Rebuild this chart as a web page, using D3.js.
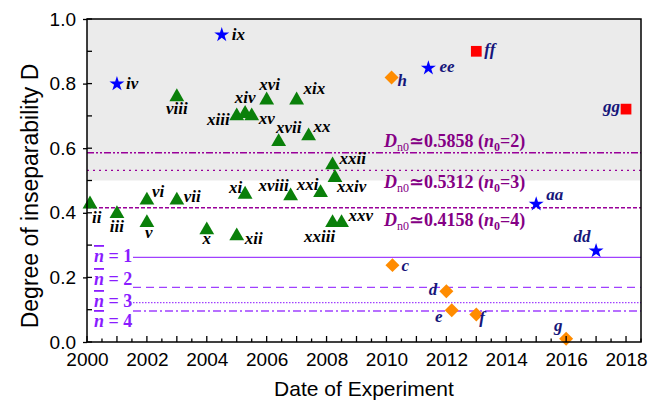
<!DOCTYPE html>
<html>
<head>
<meta charset="utf-8">
<script src="https://cdn.jsdelivr.net/npm/d3@7"></script>
<style>
  body { margin: 0; background: #fff; }
  svg { display: block; }
  .serif { font-family: "Liberation Serif", "DejaVu Serif", serif; }
  .sans { font-family: "Liberation Sans", Arial, sans-serif; }
</style>
</head>
<body>
<div id="chart"></div>
<script>
const wh = 670,
    ht = 406;

// green triangles
const triLabels = ["ii","iii","v","vi","vii","viii","x","xi","xii","xiii","xiv","xv","xvi","xvii","xviii","xix","xx","xxi","xxii","xxiii","xxiv","xxv"];
const triYears = [2000.1,2001,2002,2002,2003,2003,2004,2005.28,2005,2005,2005.28,2005.5,2006,2006.4,2006.8,2007,2007.4,2007.8,2008.2,2008.2,2008.28,2008.5];
const triD = [0.43,0.40,0.372,0.442,0.442,0.762,0.35,0.46,0.331,0.703,0.71,0.703,0.752,0.623,0.455,0.752,0.641,0.465,0.551,0.372,0.512,0.372];

// blue stars
const starLabels = ["iv","ix","ee","aa","dd"];
const starYears = [2001,2004.5,2011.4,2015,2017];
const starD = [0.799,0.951,0.848,0.427,0.282];

// orange diamonds
const diaLabels = ["h","c","d","e","f","g"];
const diaYears = [2010.17,2010.2,2012,2012.18,2013,2016];
const diaD = [0.819,0.238,0.157,0.098,0.085,0.01];

// red squares
const sqLabels = ["ff","gg"];
const sqYears = [2013,2018];
const sqD = [0.90,0.721];

// bound lines
const dBounds = [0.5858,0.5312,0.4158];
const dBoundN0 = [2,3,4];
const nbarBounds = [0.262,0.169,0.122,0.096];
const nbarVals = [1,2,3,4];

const xTicks = [2000,2002,2004,2006,2008,2010,2012,2014,2016,2018];
const yTicks = [0,0.2,0.4,0.6,0.8,1.0];

// label placement: dx, dy, anchor
const labelPos = {
  ii:[2,20,"start"], iii:[0,19,"middle"], v:[2,16,"middle"], vi:[5,-2,"start"], vii:[7,3,"start"],
  viii:[0,18,"middle"], x:[0,15,"middle"], xi:[-3,0,"end"], xii:[8,9,"start"], xiii:[-7,10,"end"],
  xiv:[0,-10,"middle"], xv:[7,9,"start"], xvi:[3,-9,"middle"], xvii:[10,-8,"middle"],
  xviii:[-17,-4,"middle"], xix:[7,-5,"start"], xx:[5,-3,"start"], xxi:[-13,-2,"middle"],
  xxii:[7,0,"start"], xxiii:[-13,20,"middle"], xxiv:[2,15,"start"], xxv:[7,-1,"start"],
  iv:[9,5,"start"], ix:[10,5,"start"], ee:[11,4,"start"], aa:[10,-4,"start"], dd:[-14,-9,"middle"],
  h:[6,9,"start"], c:[9,6,"start"], d:[-9,4,"end"], e:[-13,12,"middle"], f:[3,8,"start"], g:[-8,-8,"middle"],
  ff:[8,4,"start"], gg:[-6,3,"end"]
};

const pLeft = 87, pRight = 641, pTop = 19, pBottom = 342;

const svg = d3.select("#chart")
    .append("svg")
    .attr("width", wh)
    .attr("height", ht);

const x = d3.scaleLinear().domain([2000, 2018.5]).range([pLeft, pRight]);
const y = d3.scaleLinear().domain([0, 1]).range([pBottom, pTop]);

// gray band
svg.append("rect")
    .attr("x", pLeft).attr("y", y(1))
    .attr("width", pRight - pLeft).attr("height", y(0.5) - y(1))
    .attr("fill", "#ebebeb");

// D bound lines
const dDash = ["7,2,2,2,2,2", "2,4", "4,2"];
dBounds.forEach(function(d, i) {
    svg.append("line")
        .attr("x1", pLeft).attr("x2", pRight)
        .attr("y1", y(d)).attr("y2", y(d))
        .attr("stroke", "#990099").attr("stroke-width", 1.4)
        .attr("stroke-dasharray", dDash[i]);
});

// D labels
const dLabelY = [147, 188, 226];
dBounds.forEach(function(d, i) {
    const t = svg.append("text")
        .attr("class", "serif")
        .attr("x", 384).attr("y", dLabelY[i])
        .attr("fill", "#850085")
        .attr("font-weight", "bold")
        .attr("font-size", 18);
    t.append("tspan").attr("font-style", "italic").text("D");
    t.append("tspan").attr("font-size", 12).attr("font-weight", "normal").attr("dy", 4).text("n0");
    t.append("tspan").attr("dy", -4).text("\u2243" + d.toFixed(4) + " (");
    t.append("tspan").attr("font-style", "italic").text("n");
    t.append("tspan").attr("font-size", 12).attr("dy", 4).text("0");
    t.append("tspan").attr("dy", -4).text("=" + dBoundN0[i] + ")");
});

// n-bar lines
const nDash = [null, "8,5", "1.5,1.5", "8,3,2,3"];
const nLabelY = [262, 285, 307, 327];
nbarBounds.forEach(function(d, i) {
    svg.append("line")
        .attr("x1", 133).attr("x2", pRight)
        .attr("y1", y(d)).attr("y2", y(d))
        .attr("stroke", "#a040ff").attr("stroke-width", 1.4)
        .attr("stroke-dasharray", nDash[i]);
    const t = svg.append("text")
        .attr("class", "serif")
        .attr("x", 94).attr("y", nLabelY[i])
        .attr("fill", "#8a1cff")
        .attr("font-weight", "bold")
        .attr("font-size", 18);
    t.append("tspan").attr("font-style", "italic")
        .style("text-decoration", "overline").text("n");
    t.append("tspan").text(" = " + nbarVals[i]);
});

// markers
function pts(labels, years, vals) {
    return labels.map(function(l, i) { return {name: l, year: years[i], d: vals[i]}; });
}
const tri = pts(triLabels, triYears, triD),
    star = pts(starLabels, starYears, starD),
    dia = pts(diaLabels, diaYears, diaD),
    sq = pts(sqLabels, sqYears, sqD);

svg.selectAll(".tri").data(tri).enter().append("path")
    .attr("d", d3.symbol(d3.symbolTriangle, 95))
    .attr("transform", function(d) { return "translate(" + x(d.year) + "," + (y(d.d) + 1) + ")"; })
    .attr("fill", "#0a800a");

svg.selectAll(".star").data(star).enter().append("path")
    .attr("d", d3.symbol(d3.symbolStar, 70))
    .attr("transform", function(d) { return "translate(" + x(d.year) + "," + y(d.d) + ")"; })
    .attr("fill", "#0000ff");

svg.selectAll(".dia").data(dia).enter().append("path")
    .attr("d", d3.symbol(d3.symbolSquare, 98))
    .attr("transform", function(d) { return "translate(" + x(d.year) + "," + y(d.d) + ") rotate(45)"; })
    .attr("fill", "#ff8c00");

svg.selectAll(".sq").data(sq).enter().append("path")
    .attr("d", d3.symbol(d3.symbolSquare, 115))
    .attr("transform", function(d) { return "translate(" + x(d.year) + "," + y(d.d) + ")"; })
    .attr("fill", "#ff0000");

// point labels
const navy = ["ee","aa","dd","h","c","d","e","f","g","ff","gg"];
svg.selectAll(".plab").data(tri.concat(star, dia, sq)).enter().append("text")
    .attr("class", "serif")
    .attr("x", function(d) { return x(d.year) + labelPos[d.name][0]; })
    .attr("y", function(d) { return y(d.d) + labelPos[d.name][1]; })
    .attr("text-anchor", function(d) { return labelPos[d.name][2]; })
    .attr("font-weight", "bold")
    .attr("font-style", "italic")
    .attr("font-size", 17)
    .attr("fill", function(d) { return navy.indexOf(d.name) >= 0 ? "#16167a" : "#000"; })
    .text(function(d) { return d.name; });

// frame
svg.append("rect")
    .attr("x", pLeft).attr("y", pTop)
    .attr("width", pRight - pLeft).attr("height", pBottom - pTop)
    .attr("fill", "none").attr("stroke", "#000").attr("stroke-width", 1.5);

// x axis
const xAxis = d3.axisBottom(x).tickValues(xTicks).tickFormat(d3.format("d")).tickSize(0).tickPadding(11);
const gx = svg.append("g")
    .attr("transform", "translate(0," + pBottom + ")")
    .call(xAxis);
gx.select(".domain").remove();
gx.selectAll("text").attr("class", "sans").attr("font-family", null).attr("font-size", 19).attr("fill", "#000");

const xMinor = d3.range(2000, 2018.51, 0.5);
svg.selectAll(".xt").data(xMinor).enter().append("line")
    .attr("x1", function(d) { return x(d); }).attr("x2", function(d) { return x(d); })
    .attr("y1", pBottom)
    .attr("y2", function(d) { return pBottom - (d % 1 === 0 ? 6 : 3.5); })
    .attr("stroke", "#000").attr("stroke-width", 1.3);

// y axis
const yAxis = d3.axisLeft(y).tickValues(yTicks).tickFormat(d3.format(".1f")).tickSize(4).tickPadding(7);
const gy = svg.append("g")
    .attr("transform", "translate(" + pLeft + ",0)")
    .call(yAxis);
gy.select(".domain").remove();
gy.selectAll("line").attr("stroke-width", 1.3);
gy.selectAll("text").attr("class", "sans").attr("font-family", null).attr("font-size", 19).attr("fill", "#000");
gx.attr("font-family", null);
gy.attr("font-family", null);

const yMinor = d3.range(0, 1.001, 0.1);
svg.selectAll(".yt").data(yMinor).enter().append("line")
    .attr("x1", pLeft).attr("x2", pLeft + 5)
    .attr("y1", function(d) { return y(d); }).attr("y2", function(d) { return y(d); })
    .attr("stroke", "#000").attr("stroke-width", 1.3);

// axis titles
svg.append("text")
    .attr("class", "sans")
    .attr("x", (pLeft + pRight) / 2).attr("y", 396)
    .attr("text-anchor", "middle")
    .attr("font-size", 21)
    .text("Date of Experiment");

svg.append("text")
    .attr("class", "sans")
    .attr("transform", "translate(38," + 196 + ") rotate(-90)")
    .attr("text-anchor", "middle")
    .attr("font-size", 23)
    .text("Degree of inseparability D");
</script>
</body>
</html>
